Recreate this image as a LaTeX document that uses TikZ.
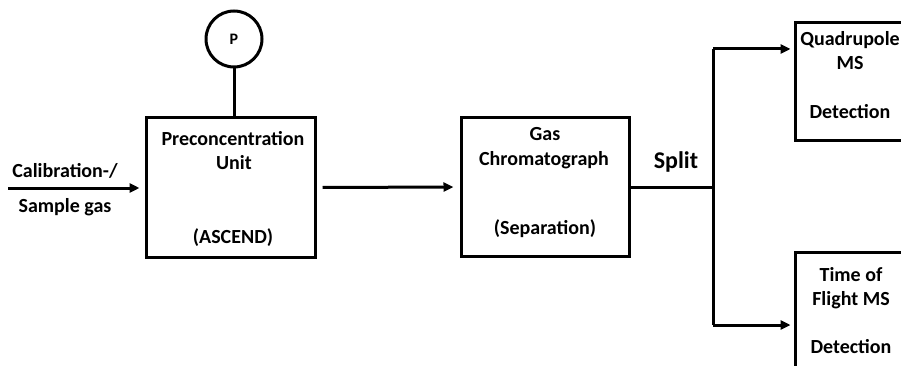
\documentclass[tikz,border=0pt]{standalone}
\usepackage{fontspec}
\setmainfont{Carlito}
\usetikzlibrary{arrows.meta}
\begin{document}
\begin{tikzpicture}[x=1pt,y=-1pt,
  box/.style={draw,line width=3pt,minimum width=#1,inner sep=0pt},
  lbl/.style={anchor=base,inner sep=0pt,font=\fontsize{20}{24}\selectfont\bfseries},
  conn/.style={line width=3pt},
  arr/.style={line width=3pt,-{Triangle[length=10pt,width=9pt]}}]
\clip (0,0) rectangle (901,366);
\fill[white] (0,0) rectangle (901,366);
% boxes
\node[box=169pt,minimum height=139pt] (pre) at (230.5,187.5) {};
\node[box=168pt,minimum height=138pt] (gc) at (545,187) {};
\node[box=165pt,minimum height=118pt] (quad) at (877.5,82) {};
\node[box=165pt,minimum height=168pt] (tof) at (877.5,336) {};
\node[draw,circle,line width=3pt,minimum size=56pt,inner sep=0pt] (p) at (234,39) {};
% texts
\node[lbl,font=\fontsize{16}{18}\selectfont\bfseries] (ptxt) at (234,45) {P};
\node[lbl] (t1) at (233,146) {Preconcentration};
\node[lbl] (t2) at (234,170) {Unit};
\node[lbl] (t3) at (233,243) {(ASCEND)};
\node[lbl] (c1) at (65,178) {Calibration-/};
\node[lbl] (c2) at (65,212) {Sample gas};
\node[lbl] (g1) at (545,141) {Gas};
\node[lbl] (g2) at (544,165) {Chromatograph};
\node[lbl] (g3) at (545,234) {(Separation)};
\node[lbl,font=\fontsize{24}{28}\selectfont\bfseries] (split) at (676,168) {Split};
\node[lbl] (q1) at (850,46) {Quadrupole};
\node[lbl] (q2) at (850,70) {MS};
\node[lbl] (q3) at (850,119) {Detection};
\node[lbl] (f1) at (851,281) {Time of};
\node[lbl] (f2) at (851,305) {Flight MS};
\node[lbl] (f3) at (851,353) {Detection};
% connectors
\coordinate (in) at (8,188);
\coordinate (sp) at (713,187);
\coordinate (sq) at (713,49);
\coordinate (st) at (713,325);
\draw[conn] (p.south) -- (p.south |- pre.north);
\draw[arr] (in) -- ([xshift=-5pt]pre.west |- in);
\draw[arr] ([xshift=6pt]pre.east) -- ([xshift=-6pt]gc.west);
\draw[conn] (gc.east) -- (sp);
\draw[conn] (sq) -- (st);
\draw[arr] (sq) -- ([xshift=-3pt]quad.west |- sq);
\draw[arr] (st) -- ([xshift=-3pt]tof.west |- st);
\end{tikzpicture}
\end{document}
